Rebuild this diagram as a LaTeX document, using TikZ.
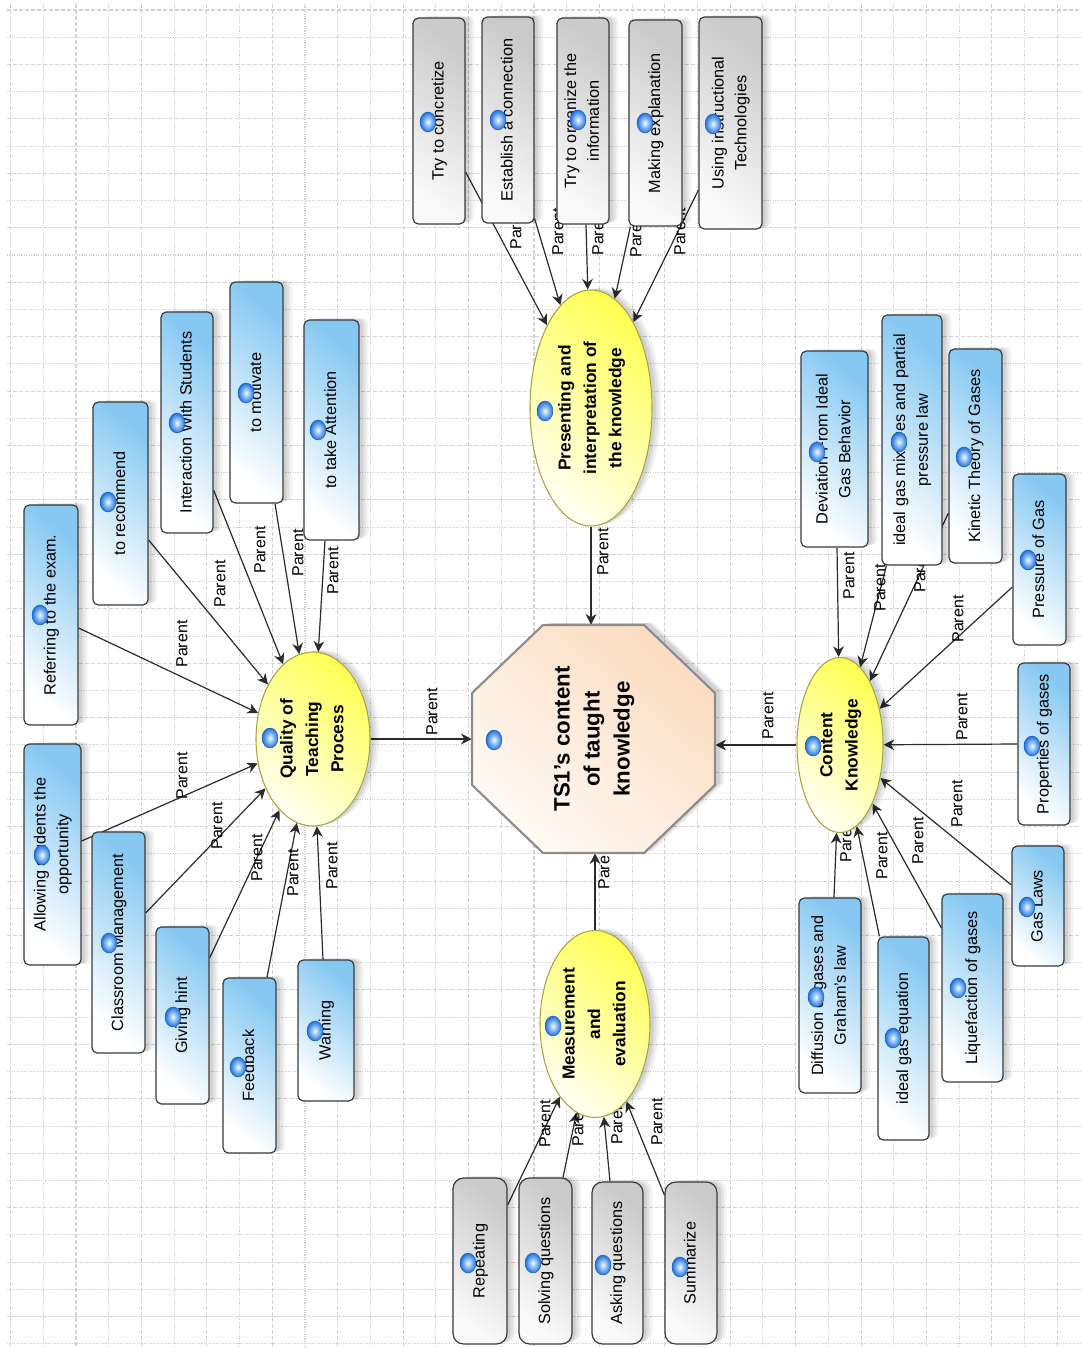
\documentclass[tikz,border=0pt]{standalone}
\usepackage{fontspec}
\setmainfont{Liberation Sans}
\usetikzlibrary{calc,arrows.meta,shapes.geometric,shadows}
\pgfdeclarelayer{gridl}
\pgfdeclarelayer{edges}
\pgfsetlayers{gridl,edges,main}
\definecolor{boxblue}{HTML}{86C8F2}
\definecolor{boxline}{HTML}{3A3A3A}
\definecolor{grayt}{HTML}{CACACA}
\definecolor{grayb}{HTML}{FAFAFA}
\definecolor{yelt}{HTML}{FFFF55}
\definecolor{yelb}{HTML}{FFFFF0}
\definecolor{yelline}{HTML}{A5A540}
\definecolor{peacht}{HTML}{FBDCC0}
\definecolor{peachb}{HTML}{FFFAF5}
\definecolor{octline}{HTML}{8C8C8C}
\definecolor{edgec}{HTML}{2B2B2B}
\definecolor{gridc}{HTML}{D2D2D2}
\definecolor{bubo}{HTML}{1D6FE0}
\definecolor{bubi}{HTML}{EAFBFF}
\newcommand\rtxt[1]{\rotatebox{90}{\begin{tabular}{@{}c@{}}#1\end{tabular}}}
\tikzset{
  sz/.style 2 args={minimum width=#1*0.75pt, minimum height=#2*0.75pt},
  shad/.style={
    drop shadow={shadow xshift=7pt, shadow yshift=1.5pt, opacity=0.05, fill=black},
    drop shadow={shadow xshift=5pt, shadow yshift=1pt, opacity=0.06, fill=black},
    drop shadow={shadow xshift=3pt, shadow yshift=0.5pt, opacity=0.07, fill=black}},
  bluebox/.style={rectangle, rounded corners=4pt, draw=boxline, line width=0.9pt,
    top color=boxblue, bottom color=white, shading angle=-40, inner sep=0pt,
    font=\fontsize{12.2}{17}\selectfont, text=black, shad},
  graybox/.style={rectangle, rounded corners=4pt, draw=boxline, line width=0.9pt,
    top color=grayt, bottom color=grayb, shading angle=-40, inner sep=0pt,
    font=\fontsize{12.2}{17}\selectfont, text=black, shad},
  grayboxr/.style={graybox, rounded corners=8pt},
  yell/.style={ellipse, draw=yelline, line width=0.8pt, top color=yelt, bottom color=yelb,
    shading angle=-40, inner sep=0pt, font=\bfseries\fontsize{13}{19}\selectfont, text=black, shad},
  octo/.style={draw=octline, line width=1.6pt, top color=peacht, bottom color=peachb, shading angle=-40},
  arr/.style={draw=edgec, line width=0.9pt, -{Stealth[length=8pt,width=8pt,inset=2.5pt]}},
  lab/.style={rotate=90, inner sep=0pt, text=black, font=\fontsize{12}{14}\selectfont},
  gridA/.style={draw=gridc, line width=0.8pt, dash pattern=on 3pt off 1.5pt},
  gridB/.style={draw=gridc, line width=0.8pt, dash pattern=on 0.9pt off 0.9pt},
  bubble/.style={draw=bubo!80!black, line width=0.3pt, inner color=bubi, outer color=bubo}
}
\begin{document}
\begin{tikzpicture}[x=0.75pt, y=-0.75pt]
\useasboundingbox (0,0) rectangle (1081,1348);
\begin{pgfonlayer}{gridl}
  \fill[white] (0,0) rectangle (1081,1348);
  \foreach \k in {0,2,...,32} {\draw[gridA] ({10.6+32.71*\k},4) -- ({10.6+32.71*\k},1348);}
  \foreach \k in {1,3,...,31} {\draw[gridB] ({10.6+32.71*\k},4) -- ({10.6+32.71*\k},1348);}
  \foreach \k in {0,2,...,48} {\draw[gridA] (7,{10+27.22*\k}) -- (1081,{10+27.22*\k});}
  \foreach \k in {1,3,...,49} {\draw[gridB] (7,{10+27.22*\k}) -- (1081,{10+27.22*\k});}
\end{pgfonlayer}

% central octagon with soft shadow
\foreach \s/\o in {9/0.05, 7/0.06, 5/0.07} {
  \fill[black, opacity=\o, shift={(\s,-2)}] (543,625) -- (644,625) -- (715,693) -- (715,785) -- (644,853) -- (543,853) -- (472,785) -- (472,693) -- cycle;
}
\path[octo] (543,625) -- (644,625) -- (715,693) -- (715,785) -- (644,853) -- (543,853) -- (472,785) -- (472,693) -- cycle;
\node[rectangle, sz={243}{228}, inner sep=0pt, font=\bfseries\fontsize{16.7}{22.5}\selectfont] (oct) at (593.5,739) {\rtxt{TS1's content\\of taught\\knowledge}};

% ellipses
\node[yell, sz={122}{236}] (pres) at (591,408) {\rtxt{Presenting and\\interpretation of\\the knowledge}};
\node[yell, sz={114}{174}] (qual) at (313,739) {\rtxt{Quality of\\Teaching\\Process}};
\node[yell, sz={86}{175}] (content) at (840,745) {\rtxt{Content\\Knowledge}};
\node[yell, sz={110}{187}] (meas) at (595,1024) {\rtxt{Measurement\\and\\evaluation}};

% top gray boxes
\node[graybox, sz={52}{206}] (conc) at (439,121) {\rtxt{Try to concretize}};
\node[graybox, sz={52}{206}] (estab) at (508,120) {\rtxt{Establish a connection}};
\node[graybox, sz={52}{206}] (organ) at (583,121) {\rtxt{Try to organize the\\information}};
\node[graybox, sz={53}{206}] (making) at (655.5,123) {\rtxt{Making explanation}};
\node[graybox, sz={63}{212}] (using) at (730.5,123) {\rtxt{Using instructional\\Technologies}};

% bottom gray boxes
\node[grayboxr, sz={54}{166}] (rep) at (480,1261) {\rtxt{Repeating}};
\node[grayboxr, sz={53}{166}] (solv) at (545.5,1261) {\rtxt{Solving questions}};
\node[grayboxr, sz={51}{162}] (ask) at (617.5,1263) {\rtxt{Asking questions}};
\node[grayboxr, sz={52}{162}] (summ) at (691,1263) {\rtxt{Summarize}};

% left blue boxes
\node[bluebox, sz={54}{220}] (ref) at (51,615) {\rtxt{Referring to the exam.}};
\node[bluebox, sz={55}{203}] (rec) at (120.5,503.5) {\rtxt{to recommend}};
\node[bluebox, sz={52}{221}] (inter) at (187,422.5) {\rtxt{Interaction With Students}};
\node[bluebox, sz={53}{221}] (motiv) at (256.5,392.5) {\rtxt{to motivate}};
\node[bluebox, sz={55}{220}] (att) at (331.5,430) {\rtxt{to take Attention}};
\node[bluebox, sz={57}{221}] (allow) at (52.5,854.5) {\rtxt{Allowing students the\\opportunity}};
\node[bluebox, sz={53}{221}] (class) at (118.5,942.5) {\rtxt{Classroom Management}};
\node[bluebox, sz={53}{177}] (hint) at (182.5,1015.5) {\rtxt{Giving hint}};
\node[bluebox, sz={53}{175}] (feed) at (249.5,1065.5) {\rtxt{Feedback}};
\node[bluebox, sz={56}{141}] (warn) at (326,1030.5) {\rtxt{Warning}};

% right blue boxes
\node[bluebox, sz={67}{196}] (dev) at (834.5,449) {\rtxt{Deviation From Ideal\\Gas Behavior}};
\node[bluebox, sz={60}{250}] (mix) at (912,440) {\rtxt{ideal gas mixtures and partial\\pressure law}};
\node[bluebox, sz={53}{214}] (kin) at (975.5,456) {\rtxt{Kinetic Theory of Gases}};
\node[bluebox, sz={53}{171}] (pgas) at (1039.5,559.5) {\rtxt{Pressure of Gas}};
\node[bluebox, sz={52}{162}] (prop) at (1044,744) {\rtxt{Properties of gases}};
\node[bluebox, sz={52}{120}] (laws) at (1038,906) {\rtxt{Gas Laws}};
\node[bluebox, sz={61}{188}] (liq) at (972.5,988) {\rtxt{Liquefaction of gases}};
\node[bluebox, sz={51}{203}] (ideq) at (903.5,1038.5) {\rtxt{ideal gas equation}};
\node[bluebox, sz={62}{195}] (diff) at (830,995.5) {\rtxt{Diffusion of gases and\\Graham's law}};

% bubbles
\foreach \x/\y in {428/122, 498/120, 578/120, 645/123, 713/124, 545/411, 494/740, 270/738,
  813/746, 553/1026, 40/615, 108/502, 177/423, 246/393, 318/430, 42/855, 109/943, 173/1017,
  238/1067, 315/1031, 468/1263, 533/1263, 603/1265, 680/1267, 817/452, 899/442, 964/457,
  1028/560, 1032/746, 1027/907, 958/988, 893/1038, 816/997}
  {\path[bubble] (\x,\y) ellipse [x radius=6pt, y radius=7.5pt];}

\begin{pgfonlayer}{edges}
  % into the octagon
  \draw[arr] (pres.south) -- (pres.south |- oct.north) node[lab, at={(603,552)}] {Parent};
  \draw[arr] (qual.east) -- (qual.east -| oct.west) node[lab, at={(432,712)}] {Parent};
  \draw[arr] (content.west) -- (content.west -| oct.east) node[lab, at={(768,716)}] {Parent};
  \draw[arr] (meas.north) -- (meas.north |- oct.south) node[lab, at={(604,866)}] {Parent};
  % top group
  \draw[arr] ($(conc.east)+(0,51)$) -- (pres) node[lab, at={(516,226)}] {Parent};
  \draw[arr] ($(estab.south east)+(0,-5)$) -- (pres) node[lab, at={(558,232)}] {Parent};
  \draw[arr] ($(organ.south)+(3,0)$) -- (pres) node[lab, at={(598,232)}] {Parent};
  \draw[arr] ($(making.south west)+(2,0)$) -- (pres) node[lab, at={(636,234)}] {Parent};
  \draw[arr] ($(using.west)+(0,67)$) -- (pres) node[lab, at={(680,232)}] {Parent};
  % left group
  \draw[arr] ($(ref.east)+(0,13)$) -- (qual) node[lab, at={(182,644)}] {Parent};
  \draw[arr] ($(rec.east)+(0,36.5)$) -- (qual) node[lab, at={(220,584)}] {Parent};
  \draw[arr] ($(inter.east)+(0,67.5)$) -- (qual) node[lab, at={(260,550)}] {Parent};
  \draw[arr] ($(motiv.south)+(18.5,0)$) -- (qual) node[lab, at={(298,553)}] {Parent};
  \draw[arr] ($(att.south)+(-6.5,0)$) -- (qual) node[lab, at={(333,571)}] {Parent};
  \draw[arr] ($(allow.east)+(0,-13.5)$) -- (qual) node[lab, at={(182,776)}] {Parent};
  \draw[arr] ($(class.east)+(0,-29.5)$) -- (qual) node[lab, at={(217,826)}] {Parent};
  \draw[arr] ($(hint.east)+(0,-57.5)$) -- (qual) node[lab, at={(257,858)}] {Parent};
  \draw[arr] ($(feed.north)+(17.5,0)$) -- (qual) node[lab, at={(293,873)}] {Parent};
  \draw[arr] ($(warn.north)+(-3,0)$) -- (qual) node[lab, at={(332,866)}] {Parent};
  % bottom group
  \draw[arr] ($(rep.east)+(0,-56)$) -- (meas) node[lab, at={(545,1124)}] {Parent};
  \draw[arr] ($(solv.north)+(17.5,0)$) -- (meas) node[lab, at={(578,1123)}] {Parent};
  \draw[arr] ($(ask.north)+(-7.5,0)$) -- (meas) node[lab, at={(617,1121)}] {Parent};
  \draw[arr] ($(summ.west)+(0,-68)$) -- (meas) node[lab, at={(657,1122)}] {Parent};
  % right group
  \draw[arr] ($(dev.south)+(2.5,0)$) -- (content) node[lab, at={(849,576)}] {Parent};
  \draw[arr] ($(mix.south west)+(5,0)$) -- (content) node[lab, at={(880,588)}] {Parent};
  \draw[arr] ($(kin.west)+(0,57)$) -- (content) node[lab, at={(920,569)}] {Parent};
  \draw[arr] ($(pgas.west)+(0,27.5)$) -- (content) node[lab, at={(958,619)}] {Parent};
  \draw[arr] (prop.west) -- (content) node[lab, at={(962,717)}] {Parent};
  \draw[arr] ($(laws.west)+(0,-21)$) -- (content) node[lab, at={(957,804)}] {Parent};
  \draw[arr] ($(liq.west)+(0,-60)$) -- (content) node[lab, at={(918,841)}] {Parent};
  \draw[arr] ($(ideq.north west)+(2,0)$) -- (content) node[lab, at={(882,856)}] {Parent};
  \draw[arr] ($(diff.north)+(4,0)$) -- (content) node[lab, at={(846,839)}] {Parent};
\end{pgfonlayer}
\end{tikzpicture}
\end{document}
